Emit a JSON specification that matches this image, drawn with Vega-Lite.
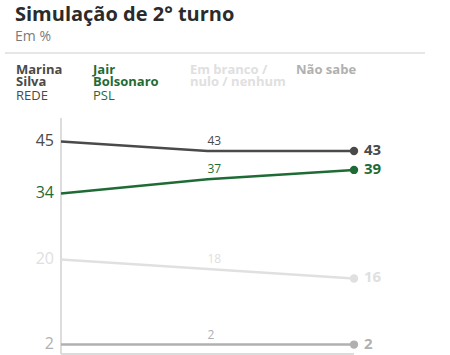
{
  "$schema": "https://vega.github.io/schema/vega-lite/v6.json",
  "padding": {"left": 4, "top": 5, "right": 5, "bottom": 0},
  "background": "white",
  "config": {
    "font": "Open Sans",
    "view": {"stroke": null},
    "concat": {"spacing": 43}
  },
  "title": {
    "text": "Simulação de 2° turno",
    "subtitle": "Em %",
    "anchor": "start",
    "frame": "group",
    "dx": 10,
    "offset": 8,
    "fontSize": 20,
    "fontWeight": "bold",
    "color": "#2b2b2b",
    "subtitleFontSize": 14,
    "subtitleColor": "#7a7a7a",
    "subtitlePadding": 5
  },
  "datasets": {
    "series": [
      {"serie": "Marina Silva", "nome": "Marina\nSilva", "partido": "REDE", "ordem": 0},
      {"serie": "Jair Bolsonaro", "nome": "Jair\nBolsonaro", "partido": "PSL", "ordem": 1},
      {"serie": "Em branco / nulo / nenhum", "nome": "Em branco /\nnulo / nenhum", "partido": "", "ordem": 2},
      {"serie": "Não sabe", "nome": "Não sabe", "partido": "", "ordem": 3}
    ],
    "valores": [
      {"serie": "Marina Silva", "pesquisa": 0, "valor": 45},
      {"serie": "Marina Silva", "pesquisa": 1, "valor": 43},
      {"serie": "Marina Silva", "pesquisa": 2, "valor": 43},
      {"serie": "Jair Bolsonaro", "pesquisa": 0, "valor": 34},
      {"serie": "Jair Bolsonaro", "pesquisa": 1, "valor": 37},
      {"serie": "Jair Bolsonaro", "pesquisa": 2, "valor": 39},
      {"serie": "Em branco / nulo / nenhum", "pesquisa": 0, "valor": 20},
      {"serie": "Em branco / nulo / nenhum", "pesquisa": 1, "valor": 18},
      {"serie": "Em branco / nulo / nenhum", "pesquisa": 2, "valor": 16},
      {"serie": "Não sabe", "pesquisa": 0, "valor": 2},
      {"serie": "Não sabe", "pesquisa": 1, "valor": 2},
      {"serie": "Não sabe", "pesquisa": 2, "valor": 2}
    ]
  },
  "bounds": "flush",
  "vconcat": [
    {
      "width": 420,
      "height": 22,
      "data": {"name": "series"},
      "layer": [
        {
          "mark": {"type": "rule", "color": "#e6e6e6", "strokeWidth": 1.5},
          "encoding": {"y": {"value": 0}}
        },
        {
          "mark": {"type": "text", "align": "left", "baseline": "top", "dx": 11, "fontSize": 13, "fontWeight": "bold", "lineBreak": "\n", "lineHeight": 12},
          "encoding": {
            "x": {"field": "ordem", "type": "quantitative", "scale": {"type": "pow", "exponent": 1.175, "domain": [0, 3], "range": [0, 280]}, "axis": null},
            "text": {"field": "nome"},
            "color": {"field": "serie", "type": "nominal", "legend": null,
              "scale": {"domain": ["Marina Silva", "Jair Bolsonaro", "Em branco / nulo / nenhum", "Não sabe"], "range": ["#4a4a4a", "#1f6b35", "#e0e0e0", "#b0b0b0"]}}
          }
        },
        {
          "mark": {"type": "text", "align": "left", "baseline": "top", "dx": 11, "dy": 26, "fontSize": 13, "fontWeight": "normal"},
          "encoding": {
            "x": {"field": "ordem", "type": "quantitative", "scale": {"type": "pow", "exponent": 1.175, "domain": [0, 3], "range": [0, 280]}, "axis": null},
            "text": {"field": "partido"},
            "color": {"field": "serie", "type": "nominal", "legend": null}
          }
        }
      ]
    },
    {
      "width": 349,
      "height": 236,
      "data": {"name": "valores"},
      "encoding": {
        "x": {"field": "pesquisa", "type": "quantitative", "scale": {"domain": [-0.3823, 2], "nice": false, "zero": false}, "axis": null},
        "y": {"field": "valor", "type": "quantitative", "scale": {"domain": [0, 50], "nice": false}, "axis": null},
        "color": {"field": "serie", "type": "nominal", "legend": null,
          "scale": {"domain": ["Marina Silva", "Jair Bolsonaro", "Em branco / nulo / nenhum", "Não sabe"], "range": ["#4a4a4a", "#1f6b35", "#e0e0e0", "#b0b0b0"]}}
      },
      "layer": [
        {
          "mark": {"type": "rule", "color": "#dcdcdc", "strokeWidth": 1.2},
          "encoding": {"x": {"datum": 0}, "y": {"datum": 0}, "y2": {"datum": 50}, "color": {"value": "#dcdcdc"}}
        },
        {
          "mark": {"type": "rule", "color": "#dcdcdc", "strokeWidth": 1.2},
          "encoding": {"x": {"datum": 0}, "x2": {"datum": 2}, "y": {"datum": 0}, "color": {"value": "#dcdcdc"}}
        },
        {
          "mark": {"type": "line", "strokeWidth": 2.5},
          "encoding": {"detail": {"field": "serie"}}
        },
        {
          "transform": [{"filter": "datum.pesquisa == 2"}],
          "mark": {"type": "point", "filled": true, "opacity": 1, "size": 70}
        },
        {
          "transform": [{"filter": "datum.pesquisa == 0"}],
          "mark": {"type": "text", "align": "right", "baseline": "middle", "dx": -7, "dy": -1, "fontSize": 16},
          "encoding": {"text": {"field": "valor"}}
        },
        {
          "transform": [{"filter": "datum.pesquisa == 1"}],
          "mark": {"type": "text", "align": "left", "baseline": "alphabetic", "dx": 0, "dy": -6, "fontSize": 12},
          "encoding": {"text": {"field": "valor"}}
        },
        {
          "transform": [{"filter": "datum.pesquisa == 2"}],
          "mark": {"type": "text", "align": "left", "baseline": "middle", "dx": 10, "dy": -1, "fontSize": 15, "fontWeight": "bold"},
          "encoding": {"text": {"field": "valor"}}
        }
      ]
    }
  ]
}
